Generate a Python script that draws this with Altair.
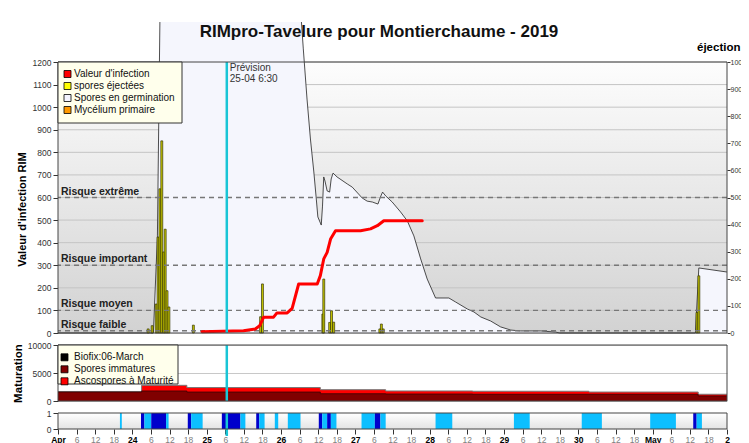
import json
import altair as alt
import pandas as pd

FONT = "Liberation Sans"

# ---------------- data (hours counted from 23 April 00:00) ----------------
chart_title = "RIMpro-Tavelure pour  Montierchaume - 2019"
day_labels = ["Apr", "24", "25", "26", "27", "28", "29", "30", "May", "2"]
total_hours = 216
forecast_hour = 54.5
forecast_text = ["Prévision", "25-04 6:30"]

# Spores en germination (RIM scale)
germ_hours = [0, 30.8, 32.1, 32.9, 78.6, 79.2, 80.4, 81.5, 82.6, 83.4, 83.9, 85.0, 85.4, 85.8,
              86.2, 86.9, 87.7, 88.2, 88.8, 90.1, 93.4, 95.0, 98.2, 99.8,
              101.5, 103.3, 104.1, 104.8, 105.8, 107.9, 110.6, 112.8, 114.9, 117.1,
              119.2, 121.9, 126.2, 128.4, 132.2, 134.3, 136.5, 139.7, 142.9, 146.2,
              149.4, 155.9, 160.7, 162.0, 205.8, 206.9, 216]
germ_values = [0, 0, 430, 1377, 1377, 1258, 1036, 859, 713, 593, 514, 478, 562, 691,
               673, 629, 624, 682, 708, 691, 660, 646, 598, 584,
               580, 571, 602, 624, 607, 580, 536, 496, 430, 328,
               239, 155, 155, 137, 106, 93, 71, 53, 27, 13,
               9, 9, 4, 0, 0, 288, 270]

# spores éjectées (éjection scale)
eject_hours = [28.8, 30.1, 31.4, 32.0, 32.6, 33.2, 33.8, 34.3, 34.9, 35.5, 43.4, 65.1, 65.7,
               85.2, 85.5, 87.4, 88.0, 88.7, 103.6, 104.1, 104.7, 206.0, 206.6]
eject_values = [15, 27, 107, 354, 532, 709, 299, 383, 156, 96, 29, 60, 181,
                70, 199, 39, 82, 40, 15, 33, 15, 76, 211]

# Valeur d'infection (RIM scale)
infect_hours = [46.5, 59.9, 63.7, 65.1, 66.4, 69.6, 70.7, 74.0, 75.6, 77.7, 83.7, 84.7, 85.8,
                86.9, 88.0, 89.6, 97.7, 100.9, 103.1, 105.2, 117.6]
infect_values = [6, 10, 18, 32, 70, 70, 89, 89, 109, 217, 217, 254, 328,
                 357, 416, 453, 453, 461, 475, 497, 497]

risk_levels = [10, 100, 300, 600]
risk_labels = ["Risque faible", "Risque moyen", "Risque important", "Risque extrême"]
left_ticks = list(range(0, 1201, 100))
right_ticks = list(range(0, 1001, 100))

# Maturation
mat_hours = [0, 27, 41.6, 84.7, 105.8, 133.9, 171.4, 206.7, 216]
immature = [1600, 1790, 1600, 1300, 1250, 1200, 1200, 900, 900]
mature = [100, 1010, 800, 720, 540, 540, 400, 300, 300]
mat_ticks = [0, 5000, 10000]

# Wetness periods
wet_start = [20.0, 26.8, 27.9, 30.1, 34.9, 41.9, 43.0, 52.9, 58.9, 64.0, 65.0, 70.0, 74.2,
             84.2, 85.3, 86.9, 88.1, 98.0, 102.3, 104.1, 121.9, 147.2, 169.1, 191.2, 205.1, 206.2]
wet_end = [20.6, 27.9, 30.1, 34.9, 35.7, 43.0, 46.7, 58.9, 60.5, 65.0, 66.7, 71.1, 78.3,
           85.3, 86.9, 88.1, 89.9, 102.3, 104.1, 105.8, 127.3, 152.3, 175.6, 199.5, 206.2, 207.9]
wet_kind = ["light", "dark", "light", "dark", "light", "dark", "light", "dark", "light", "dark",
            "light", "light", "light", "dark", "light", "dark", "light", "light", "dark", "light",
            "light", "light", "light", "light", "dark", "light"]

legend1_labels = ["Valeur d'infection", "spores éjectées", "Spores en germination", "Mycélium primaire"]
legend1_colors = ["#ff0000", "#ffff00", "#f4f4ff", "#ff9900"]
legend2_labels = ["Biofix:06-March", "Spores immatures", "Ascospores à Maturité"]
legend2_colors = ["#000000", "#800000", "#ff0000"]

# ---------------- layout / style ----------------
W = 669
H1, H2, H3 = 271, 56, 16
BAR_W = 0.62
CYAN = "#19c5d6"

one = pd.DataFrame({"k": [0]})


def xs():
    return alt.Scale(domain=[0, total_hours], nice=False, zero=False)


yl = alt.Scale(domain=[0, 1200], nice=False, zero=True)
yr = alt.Scale(domain=[0, 1000], nice=False, zero=True)
ym = alt.Scale(domain=[0, 10000], nice=False, zero=True)


def gradient(c0, c1):
    return alt.LinearGradient(
        gradient="linear",
        stops=[alt.GradientStop(color=c0, offset=0), alt.GradientStop(color=c1, offset=1)],
        x1=0, x2=0, y1=0, y2=1)


def rect(x0, x1, y0, y1, fill, stroke=None, sw=1.0):
    kw = dict(fill=fill)
    if stroke is not None:
        kw.update(stroke=stroke, strokeWidth=sw)
    return alt.Chart(one).mark_rect(**kw).encode(
        x=alt.value(x0), x2=alt.value(x1), y=alt.value(y0), y2=alt.value(y1))


def legend(labels, colors, w, h, sw_x, text_x, y0, dy):
    layers = [rect(0, w, 0, h, "#ffffec", "#333333", 1)]
    for i, (lab, col) in enumerate(zip(labels, colors)):
        yc = y0 + dy * i
        layers.append(rect(sw_x, sw_x + 7, yc - 3.5, yc + 3.5, col, "#000000", 0.8))
        layers.append(alt.Chart(one).mark_text(
            text=lab, align="left", baseline="middle", fontSize=10, font=FONT, color="#111111"
        ).encode(x=alt.value(text_x), y=alt.value(yc)))
    return layers


axis_common = dict(labelFont=FONT, labelColor="#333333", tickColor="#333333",
                   domain=False, grid=False, format="d")

# ---------------- top panel ----------------
germ_df = pd.DataFrame({"h": germ_hours, "v": germ_values})
germ_df["seg"] = [0 if i < 4 else 1 for i in range(len(germ_df))]
eject_df = pd.DataFrame({"h": eject_hours, "v": eject_values})
eject_df["e"] = eject_df["h"] + BAR_W
infect_df = pd.DataFrame({"h": infect_hours, "v": infect_values})
risk_df = pd.DataFrame({"v": risk_levels, "label": risk_labels})
grid_df = pd.DataFrame({"v": left_ticks})
fc_df = pd.DataFrame({"h": [forecast_hour]})

left_axis = alt.Axis(orient="left", values=left_ticks, title="Valeur d'infection RIM",
                     titleFont=FONT, titleFontSize=11, titleFontWeight="bold", titleColor="#000000",
                     titleX=-36, titleY=147, titleBaseline="middle",
                     tickSize=5, labelPadding=2, labelFontSize=8.5, **axis_common)
right_axis = alt.Axis(orient="right", values=right_ticks, title="éjection",
                      titleFont=FONT, titleFontSize=11.5, titleFontWeight="bold", titleColor="#000000",
                      titleAngle=0, titleX=13, titleY=-15, titleAlign="right", titleBaseline="middle",
                      tickSize=3, labelPadding=0, labelFontSize=7, **axis_common)

top_layers = [
    rect(0, W, 0, H1, gradient("#fdfdfd", "#d2d2d2")),
    alt.Chart(grid_df).mark_rule(color="#c4c4c4", strokeWidth=1).encode(
        y=alt.Y("v:Q", scale=yl, axis=left_axis)),
    alt.Chart(germ_df).mark_area(color="#f5f6fd", clip=False).encode(
        x=alt.X("h:Q", scale=xs(), axis=None), y=alt.Y("v:Q", scale=yl, axis=None)),
    alt.Chart(germ_df).mark_line(color="#222222", strokeWidth=0.8, clip=False).encode(
        x=alt.X("h:Q", scale=xs(), axis=None), y=alt.Y("v:Q", scale=yl, axis=None),
        detail="seg:N"),
    alt.Chart(eject_df).mark_rect(fill="#c8c800", stroke="#333300", strokeWidth=0.7).encode(
        x=alt.X("h:Q", scale=xs(), axis=None), x2="e:Q",
        y=alt.Y("v:Q", scale=yr, axis=right_axis), y2=alt.Y2(datum=0)),
    alt.Chart(risk_df).mark_rule(color="#777777", strokeWidth=1.3, strokeDash=[5, 4]).encode(
        y=alt.Y("v:Q", scale=yl, axis=None)),
    alt.Chart(risk_df).mark_text(align="left", baseline="alphabetic", dy=-3, fontSize=10.5,
                                 fontWeight="bold", font=FONT, color="#222222").encode(
        x=alt.value(3), y=alt.Y("v:Q", scale=yl, axis=None), text="label:N"),
    alt.Chart(infect_df).mark_line(color="#ff0000", strokeWidth=3, strokeJoin="round",
                                   strokeCap="round").encode(
        x=alt.X("h:Q", scale=xs(), axis=None), y=alt.Y("v:Q", scale=yl, axis=None)),
    alt.Chart(fc_df).mark_rule(color=CYAN, strokeWidth=2.5).encode(
        x=alt.X("h:Q", scale=xs(), axis=None)),
    alt.Chart(fc_df).mark_text(text=forecast_text, align="left", baseline="top", fontSize=10,
                               lineHeight=11, font=FONT, color="#333333", dx=3).encode(
        x=alt.X("h:Q", scale=xs(), axis=None), y=alt.value(1)),
    rect(0, W, 0, H1, "transparent", "#444444", 1),
] + legend(legend1_labels, legend1_colors, 124, 61, 6, 16, 12, 12) + [
    alt.Chart(one).mark_text(text=chart_title, fontSize=17, fontWeight="bold", font=FONT,
                             align="center", baseline="middle", color="#111111").encode(
        x=alt.value(321), y=alt.value(-30)),
]

top = alt.layer(*top_layers).resolve_scale(y="independent").properties(width=W, height=H1)

# ---------------- middle panel ----------------
mat_df = pd.DataFrame({"h": mat_hours, "imm": immature, "mat": mature})
mat_df["tot"] = mat_df["imm"] + mat_df["mat"]
mid_axis = alt.Axis(orient="left", values=mat_ticks, title="Maturation", titleFont=FONT,
                    titleFontSize=11.5, titleFontWeight="bold", titleColor="#000000", titleX=-40,
                    titleBaseline="middle", tickSize=5, labelPadding=2, labelFont=FONT,
                    labelFontSize=8.5, format="d", labelColor="#333333", tickColor="#333333",
                    domain=False, grid=True, gridColor="#c8c8c8")

mid_layers = [
    alt.Chart(mat_df).mark_area(color="#ff0000", interpolate="step-after").encode(
        x=alt.X("h:Q", scale=xs(), axis=None), y=alt.Y("tot:Q", scale=ym, axis=mid_axis)),
    alt.Chart(mat_df).mark_line(color="#777777", strokeWidth=1, interpolate="step-after").encode(
        x=alt.X("h:Q", scale=xs(), axis=None), y=alt.Y("tot:Q", scale=ym, axis=None)),
    alt.Chart(mat_df).mark_area(color="#800000", interpolate="step-after").encode(
        x=alt.X("h:Q", scale=xs(), axis=None), y=alt.Y("imm:Q", scale=ym, axis=None)),
    alt.Chart(mat_df).mark_line(color="#3a0000", strokeWidth=0.8, interpolate="step-after").encode(
        x=alt.X("h:Q", scale=xs(), axis=None), y=alt.Y("imm:Q", scale=ym, axis=None)),
    alt.Chart(fc_df).mark_rule(color=CYAN, strokeWidth=2.5).encode(
        x=alt.X("h:Q", scale=xs(), axis=None)),
    rect(0, W, 0, H2, "transparent", "#444444", 1),
] + legend(legend2_labels, legend2_colors, 120, 39, 3, 16, 12.3, 12)

mid = alt.layer(*mid_layers).resolve_scale(y="independent").properties(width=W, height=H2)

# ---------------- bottom panel ----------------
wet_df = pd.DataFrame({"s": wet_start, "e": wet_end, "kind": wet_kind})
label_expr = ("datum.value % 24 === 0 ? " + json.dumps(day_labels) +
              "[round(datum.value / 24)] : '' + (datum.value % 24)")
x_axis = alt.Axis(orient="bottom", values=list(range(0, total_hours + 1, 6)), labelExpr=label_expr,
                  title=None, labelFont=FONT, labelFontSize=8.5, tickSize=5, labelPadding=1,
                  tickColor="#333333", domain=False, grid=False, labelOverlap=False,
                  labelFlush=False, labelBound=False,
                  labelFontWeight={"condition": {"test": "datum.value % 24 === 0", "value": "bold"},
                                   "value": "normal"},
                  labelColor={"condition": {"test": "datum.value % 24 === 0", "value": "#000000"},
                              "value": "#808080"})
yb_axis = alt.Axis(orient="left", values=[0, 1], title=None, tickSize=5, labelPadding=2,
                   labelFont=FONT, labelFontSize=8.5, labelColor="#333333", tickColor="#333333",
                   domain=False, grid=False, format="d")

bot_layers = [
    rect(0, W, 0, H3, gradient("#ffffff", "#e4e4e4")),
    alt.Chart(wet_df).mark_rect().encode(
        x=alt.X("s:Q", scale=xs(), axis=x_axis), x2="e:Q",
        y=alt.Y(datum=1, scale=alt.Scale(domain=[0, 1], nice=False), axis=yb_axis),
        y2=alt.Y2(datum=0),
        color=alt.Color("kind:N", scale=alt.Scale(domain=["light", "dark"],
                                                  range=["#0cbfff", "#0000cc"]), legend=None)),
    alt.Chart(fc_df).mark_rule(color=CYAN, strokeWidth=2.5, clip=False).encode(
        x=alt.X("h:Q", scale=xs(), axis=None), y=alt.value(0), y2=alt.value(H3 + 7)),
    rect(0, W, 0, H3, "transparent", "#444444", 1),
]
bot = alt.layer(*bot_layers).resolve_scale(x="independent", y="independent").properties(
    width=W, height=H3)

chart = alt.vconcat(top, mid, bot, spacing=12, bounds="flush").properties(
    padding={"left": 4, "top": 12, "right": -5, "bottom": 0},
    background="white",
).configure_view(stroke=None)

chart.save("out.html", embed_options={"renderer": "svg", "actions": False})
